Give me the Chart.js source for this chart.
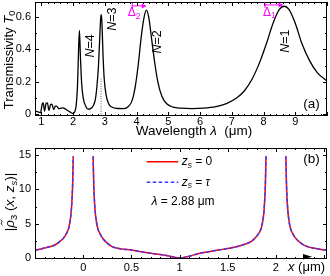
<!doctype html>
<html lang="en">
<head>
<meta charset="utf-8">
<title>Transmissivity and |rho3|</title>
<script src="https://cdn.jsdelivr.net/npm/chart.js"></script>
<style>
  body{margin:0;background:#fff}
  #wrap{position:relative;width:330px;height:276px}
  canvas{position:absolute;left:0}
  #c1{top:0}
  #c2{top:138px}
</style>
</head>
<body>
<div id="wrap">
  <canvas id="c1" width="330" height="138"></canvas>
  <canvas id="c2" width="330" height="138"></canvas>
</div>

<script>
/* ---------- data: panel (a), transmissivity T0 vs wavelength -------- */
const lambdaUm=[0.8,0.9,0.97,1.03,1.06,1.1,1.15,1.19,1.24,1.29,1.33,1.39,1.44,1.48,1.55,1.62,1.68,1.78,1.9,2.0,
  2.06,2.1,2.14,2.17,2.2,2.23,2.27,2.32,2.4,2.47,2.55,2.64,2.7,2.75,2.8,2.84,2.87,2.89,2.91,2.94,2.98,3.04,3.12,3.22,
  3.4,3.6,3.75,3.85,3.95,4.05,4.15,4.23,4.31,4.38,4.47,4.57,4.67,4.8,4.95,5.15,5.4,5.75,6.1,6.5,6.85,7.15,7.4,7.65,
  7.9,8.1,8.3,8.5,8.65,8.8,9.0,9.2,9.45,9.7,10.0];
const transT0=[0.02,0.015,0.01,0.065,0.071,0.02,0.068,0.071,0.025,0.06,0.063,0.03,0.05,0.051,0.035,0.038,0.04,0.03,0.015,0.005,
  0.02,0.06,0.18,0.38,0.515,0.36,0.19,0.1,0.05,0.032,0.035,0.055,0.09,0.17,0.3,0.47,0.59,0.612,0.56,0.38,0.22,0.12,0.065,0.045,
  0.036,0.035,0.05,0.08,0.16,0.3,0.48,0.59,0.64,0.6,0.47,0.32,0.2,0.11,0.065,0.045,0.038,0.035,0.038,0.048,0.068,0.1,0.145,0.22,
  0.33,0.44,0.56,0.645,0.664,0.645,0.56,0.44,0.33,0.255,0.205];
const markLambda=[2.88,2.88];     // dotted line at lambda = 2.88 um
const markT0=[0,0.22];
const aXLabels=[1,2,3,4,5,6,7,8,9];
const aYLabels=[0,0.2,0.4,0.6];

/* ---------- data: panel (b), |rho3(x,zs)| vs x (gaps at singular points) */
const xUm=[-0.5,-0.4,-0.3,-0.25,-0.2,-0.17,-0.15,-0.13,-0.12,-0.11,-0.103,0,
  0.103,0.11,0.12,0.13,0.15,0.17,0.2,0.25,0.3,0.4,0.5,0.6,0.7,0.8,0.9,1.0,1.1,1.2,1.3,1.4,1.5,1.6,1.7,1.75,1.8,
  1.83,1.85,1.87,1.88,1.89,1.897,2,2.103,2.11,2.12,2.13,2.15,2.17,2.2,2.25,2.3,2.4,2.5,2.53];
const rhoZ0=[1.15,1.5,1.9,2.35,3.0,3.7,4.4,6.0,7.6,10.5,14.8,null,
  14.8,10.5,7.6,6.0,4.4,3.7,2.95,2.2,1.7,1.35,1.2,0.95,0.72,0.55,0.3,0.03,0.3,0.7,0.95,1.2,1.42,1.7,2.15,2.5,3.2,
  3.8,4.5,6.0,7.6,10.5,14.8,null,14.8,10.5,7.6,6.0,4.4,3.7,3.0,2.3,1.85,1.45,1.22,1.18];
const rhoZtau=rhoZ0.slice();      // z_s = tau curve coincides with z_s = 0
const bXLabels=[0,0.5,1,1.5,2];
const bYLabels=[0,5,10,15];

/* ---------- shared settings ------------------------------------------ */
const FONT='"Liberation Sans", Arial, Helvetica, sans-serif';
Chart.defaults.font.family=FONT;
Chart.defaults.font.size=11;
Chart.defaults.color='#000';

const pts=(xs,ys)=>xs.map((x,i)=>({x,y:ys[i]}));

/* text with italic / subscript runs */
function drawRuns(ctx,parts,x,y,size,align){
  let w=0;
  const items=parts.map(p=>{
    const s=p.sub?size*0.7:size;
    const f=(p.i?'italic ':'')+s+'px '+FONT;
    ctx.font=f;
    const it={...p,f,w:ctx.measureText(p.t).width};
    w+=it.w; return it;
  });
  let cx=align==='center'?x-w/2:align==='right'?x-w:x;
  ctx.textAlign='left'; ctx.textBaseline='middle';
  items.forEach(it=>{
    ctx.font=it.f;
    ctx.fillText(it.t,cx,y+(it.sub?size*0.3:0));
    if(it.tilde){
      const ty=y-size*0.62, x0=cx+it.w*0.3, x1=cx+it.w*1.05, m=(x0+x1)/2;
      ctx.save(); ctx.lineWidth=0.9; ctx.strokeStyle=ctx.fillStyle;
      ctx.beginPath(); ctx.moveTo(x0,ty+1);
      ctx.quadraticCurveTo((x0+m)/2,ty-1.5,m,ty); ctx.quadraticCurveTo((m+x1)/2,ty+1.5,x1,ty-1);
      ctx.stroke(); ctx.restore();
    }
    cx+=it.w;
  });
}
function vText(ctx,parts,x,y,size){
  ctx.save(); ctx.translate(x,y); ctx.rotate(-Math.PI/2);
  drawRuns(ctx,parts,0,0,size,'center'); ctx.restore();
}

/* box + inward ticks on all four sides */
const frame={
  id:'frame',
  afterDraw(chart,args,o){
    const {ctx,chartArea:a}=chart, sx=chart.scales.x, sy=chart.scales.y;
    ctx.save(); ctx.strokeStyle='#000'; ctx.lineWidth=1;
    ctx.strokeRect(a.left+0.5,a.top+0.5,a.right-a.left-1,a.bottom-a.top-1);
    ctx.beginPath();
    const marks=(s,step,len)=>{
      for(let i=Math.ceil(s.min/step-1e-9);i<=Math.floor(s.max/step+1e-9);i++){
        const p=Math.round(s.getPixelForValue(i*step))+0.5;
        if(s.isHorizontal()){ctx.moveTo(p,a.bottom);ctx.lineTo(p,a.bottom-len);ctx.moveTo(p,a.top);ctx.lineTo(p,a.top+len);}
        else{ctx.moveTo(a.left,p);ctx.lineTo(a.left+len,p);ctx.moveTo(a.right,p);ctx.lineTo(a.right-len,p);}
      }
    };
    marks(sx,o.xMinor,2); marks(sx,o.xMajor,4); marks(sy,o.yMinor,2); marks(sy,o.yMajor,4);
    ctx.stroke(); ctx.restore();
  }
};

function axes(xmin,xmax,xlab,xh,xpad,ymin,ymax,ylab){
  const zero=s=>{s.paddingTop=s.paddingBottom=s.paddingLeft=s.paddingRight=0;};
  const fmt=v=>String(+v.toFixed(2));
  return {
    x:{type:'linear',min:xmin,max:xmax,grid:{display:false,drawTicks:false},border:{display:false},
       ticks:{autoSkip:false,maxRotation:0,padding:xpad,callback:fmt},
       afterBuildTicks:s=>{s.ticks=xlab.map(v=>({value:v}));},
       afterFit:s=>{s.height=xh;zero(s);}},
    y:{type:'linear',min:ymin,max:ymax,grid:{display:false,drawTicks:false},border:{display:false},
       ticks:{autoSkip:false,padding:4,callback:fmt},
       afterBuildTicks:s=>{s.ticks=ylab.map(v=>({value:v}));},
       afterFit:s=>{s.width=35;zero(s);}}
  };
}

/* ---------- panel (a) ------------------------------------------------ */
const MAG='#ff00ff';
function deltaArrow(ctx,x0,x1,y){
  ctx.save(); ctx.strokeStyle=MAG; ctx.fillStyle=MAG; ctx.lineWidth=1;
  ctx.beginPath(); ctx.moveTo(x0,y); ctx.lineTo(x1-4,y); ctx.moveTo(x0+0.5,y-3); ctx.lineTo(x0+0.5,y+3); ctx.stroke();
  ctx.beginPath(); ctx.moveTo(x1,y); ctx.lineTo(x1-5,y-2.5); ctx.lineTo(x1-5,y+2.5); ctx.closePath(); ctx.fill();
  ctx.restore();
}
const notesA={
  id:'notesA',
  afterDraw(chart){
    const {ctx}=chart, X=v=>chart.scales.x.getPixelForValue(v), Y=v=>chart.scales.y.getPixelForValue(v);
    ctx.save(); ctx.fillStyle='#000';
    [['4',2.54,0.42],['3',3.23,0.585],['2',4.65,0.445],['1',8.69,0.45]].forEach(([n,lx,ly])=>
      vText(ctx,[{t:'N',i:true},{t:'='+n}],X(lx),Y(ly),12.5));
    vText(ctx,[{t:'Transmissivity '},{t:'T',i:true},{t:'0',sub:true}],9,60,13);
    drawRuns(ctx,[{t:'Wavelength '},{t:'λ',i:true},{t:'  (μm)'}],194,131,13.5,'center');
    drawRuns(ctx,[{t:'(a)'}],311.5,104,13.5,'center');
    ctx.fillStyle=MAG;
    deltaArrow(ctx,X(3.85),X(4.32),Y(0.666));
    drawRuns(ctx,[{t:'Δ'},{t:'2',sub:true}],X(3.92),Y(0.623),12,'center');
    deltaArrow(ctx,X(8.03),X(8.63),Y(0.672));
    drawRuns(ctx,[{t:'Δ'},{t:'1',sub:true}],X(8.18),Y(0.626),12,'center');
    ctx.restore();
  }
};

new Chart(document.getElementById('c1'),{
  type:'line',
  data:{datasets:[
    {data:pts(lambdaUm,transT0),borderColor:'#000',borderWidth:1.3,pointRadius:0,cubicInterpolationMode:'monotone'},
    {data:pts(markLambda,markT0),borderColor:'#555',borderWidth:1,borderDash:[1,1.5],pointRadius:0}
  ]},
  options:{
    responsive:false,animation:false,events:[],
    layout:{padding:{left:0,right:3,top:2,bottom:0}},
    plugins:{legend:{display:false},tooltip:{enabled:false},
             frame:{xMajor:1,xMinor:0.2,yMajor:0.2,yMinor:0.1}},
    scales:axes(0.8,10,aXLabels,22,-1,-0.01,0.69,aYLabels)
  },
  plugins:[frame,notesA]
});

/* ---------- panel (b) ------------------------------------------------ */
const RED='#ff0000', BLUE='#3a3aff';
const notesB={
  id:'notesB',
  afterDraw(chart){
    const {ctx}=chart;
    ctx.save(); ctx.fillStyle='#000';
    vText(ctx,[{t:'|'},{t:'ρ',i:true,tilde:true},{t:'3',sub:true},{t:' ('},{t:'x',i:true},{t:', '},{t:'z',i:true},{t:'s',i:true,sub:true},{t:')|'}],10,64,13.5);
    drawRuns(ctx,[{t:'x',i:true},{t:' (μm)'}],288,129,13,'left');
    drawRuns(ctx,[{t:'(b)'}],311.5,21,13.5,'center');
    ctx.beginPath(); ctx.moveTo(303,116); ctx.lineTo(312,118.8); ctx.lineTo(303,121.5); ctx.closePath(); ctx.fill();
    // legend
    ctx.lineWidth=1.5;
    ctx.strokeStyle=RED; ctx.beginPath(); ctx.moveTo(146.7,23.7); ctx.lineTo(178.3,23.7); ctx.stroke();
    ctx.strokeStyle=BLUE; ctx.setLineDash([3.5,2.5]); ctx.beginPath(); ctx.moveTo(146.7,44.3); ctx.lineTo(178.3,44.3); ctx.stroke();
    ctx.setLineDash([]);
    drawRuns(ctx,[{t:'z',i:true},{t:'s',i:true,sub:true},{t:' = 0'}],181.7,23.7,12,'left');
    drawRuns(ctx,[{t:'z',i:true},{t:'s',i:true,sub:true},{t:' = '},{t:'τ',i:true}],181.7,44.3,12,'left');
    drawRuns(ctx,[{t:'λ',i:true},{t:' = 2.88 μm'}],183,63.7,12,'center');
    ctx.restore();
  }
};

new Chart(document.getElementById('c2'),{
  type:'line',
  data:{datasets:[
    {label:'zs = 0',data:pts(xUm,rhoZ0),borderColor:RED,borderWidth:1.5,pointRadius:0,spanGaps:false,order:2,cubicInterpolationMode:'monotone'},
    {label:'zs = tau',data:pts(xUm,rhoZtau),borderColor:BLUE,borderWidth:1.5,borderDash:[3.5,2.5],pointRadius:0,spanGaps:false,order:1,cubicInterpolationMode:'monotone'}
  ]},
  options:{
    responsive:false,animation:false,events:[],
    layout:{padding:{left:0,right:3,top:10,bottom:0}},
    plugins:{legend:{display:false},tooltip:{enabled:false},
             frame:{xMajor:0.5,xMinor:0.1,yMajor:5,yMinor:2.5}},
    scales:axes(-0.5,2.53,bXLabels,17,2,-0.1,16,bYLabels)
  },
  plugins:[frame,notesB]
});
</script>
</body>
</html>
